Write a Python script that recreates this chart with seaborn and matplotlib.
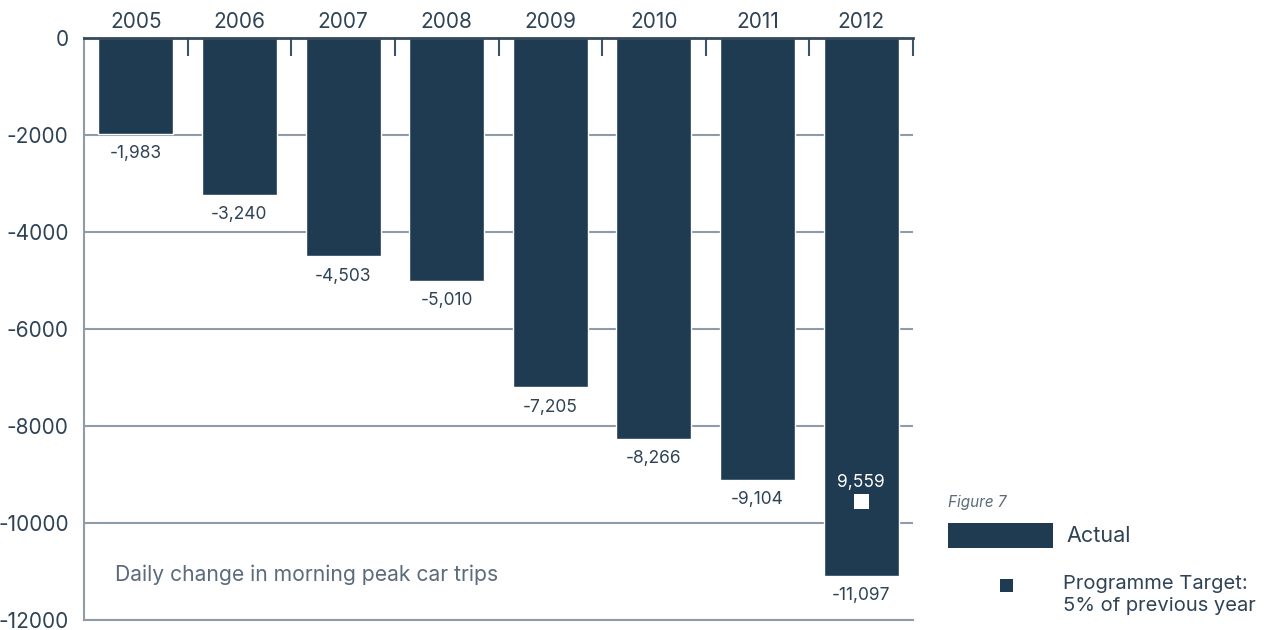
import matplotlib
matplotlib.use("Agg")
import matplotlib.pyplot as plt
from matplotlib.patches import Rectangle
import seaborn as sns
import pandas as pd

# Daily change in morning peak car trips, by year
years = ["2005", "2006", "2007", "2008", "2009", "2010", "2011", "2012"]
actual = [-1983, -3240, -4503, -5010, -7205, -8266, -9104, -11097]
target_year = "2012"
target_value = -9559
y_ticks = [0, -2000, -4000, -6000, -8000, -10000, -12000]

NAVY = "#1f3b52"
GRID = "#8e9caa"
TEXT = "#2f4356"
SOFT = "#5b6b7b"

sns.set_theme(style="white")
plt.rcParams["font.family"] = ["Inter", "DejaVu Sans"]

df = pd.DataFrame({"year": years, "change": actual})

W, H = 1264, 630
fig = plt.figure(figsize=(W / 100, H / 100), dpi=100)
ax = fig.add_axes([84 / W, 1 - 620 / H, (913 - 84) / W, (620 - 38) / H])

sns.barplot(data=df, x="year", y="change", order=years, color=NAVY,
            saturation=1, width=0.724, ax=ax)

ax.set_xlim(-0.5, len(years) - 0.5)
ax.set_ylim(-12000, 0)
ax.set_yticks(y_ticks)
ax.set_yticklabels([f"{v}" for v in y_ticks])
ax.set_axisbelow(True)
ax.yaxis.grid(True, color=GRID, linewidth=1.5)
ax.xaxis.grid(False)

# year labels along the top edge, with boundary ticks between the bars
ax.xaxis.tick_top()
ax.tick_params(axis="x", which="major", length=0, pad=4, labelsize=15,
               labelcolor=TEXT)
ax.set_xticks([i + 0.5 for i in range(len(years))], minor=True)
ax.tick_params(axis="x", which="minor", top=True, bottom=False,
               direction="in", length=13, width=1.5, color="#3e5366")
ax.tick_params(axis="y", length=0, pad=11, labelsize=15, labelcolor=TEXT)
ax.set_xlabel("")
ax.set_ylabel("")

ax.spines["right"].set_visible(False)
ax.spines["top"].set_color("#34495c")
ax.spines["top"].set_linewidth(2)
ax.spines["left"].set_color(GRID)
ax.spines["left"].set_linewidth(1.5)
ax.spines["bottom"].set_color(GRID)
ax.spines["bottom"].set_linewidth(1.5)

# value labels below each bar end
for i, v in enumerate(actual):
    ax.annotate(f"{v:,}", xy=(i, v), xytext=(0, -8), textcoords="offset points",
                ha="center", va="top", fontsize=12.5, color=TEXT)

# programme target marker for the final year
ti = years.index(target_year)
ax.scatter([ti], [target_value], marker="s", s=120, color="white",
           edgecolors="none", zorder=5)
ax.annotate(f"{abs(target_value):,}", xy=(ti, target_value), xytext=(0, 8),
            textcoords="offset points", ha="center", va="bottom",
            fontsize=12.5, color="white", zorder=6)

ax.text(0.037, 0.078, "Daily change in morning peak car trips",
        transform=ax.transAxes, fontsize=15.2, color=SOFT, ha="left",
        va="center")

# legend block on the right
fig.text(948 / W, 1 - 503 / H, "Figure 7", fontsize=11, style="italic",
         color=SOFT, ha="left", va="center")
fig.add_artist(Rectangle((948 / W, 1 - 548 / H), 105 / W, 25 / H,
                         transform=fig.transFigure, color=NAVY, lw=0))
fig.text(1066 / W, 1 - 536 / H, "Actual", fontsize=15.5, color=TEXT,
         ha="left", va="center")
fig.add_artist(Rectangle((1000 / W, 1 - 592 / H), 13 / W, 13 / H,
                         transform=fig.transFigure, color=NAVY, lw=0))
fig.text(1063 / W, 1 - 595 / H, "Programme Target:\n5% of previous year",
         fontsize=14.5, color=TEXT, ha="left", va="center", linespacing=1.3)

fig.savefig("out.png", dpi=100)
